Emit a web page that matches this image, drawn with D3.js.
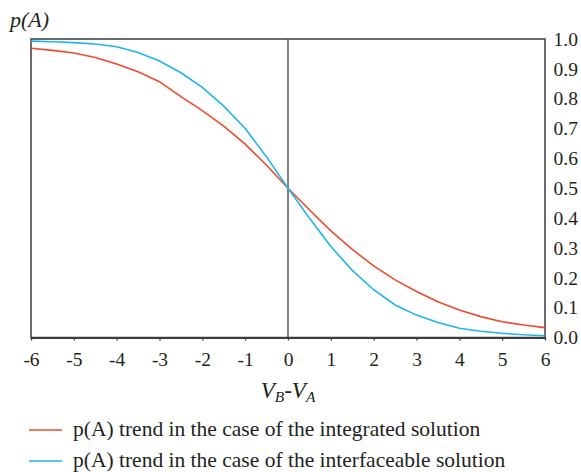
<!DOCTYPE html>
<html>
<head>
<meta charset="utf-8">
<script src="https://cdn.jsdelivr.net/npm/d3@7"></script>
<style>
  body { margin: 0; background: #fff; }
  svg text { font-family: "Liberation Serif", "DejaVu Serif", serif; fill: #231f20; }
</style>
</head>
<body>
<svg id="chart" width="581" height="472"></svg>
<script>
// Potential difference V_B - V_A
const xValues = [-6, -5.5, -5, -4.5, -4, -3.5, -3, -2.5, -2, -1.5, -1, -0.5, 0,
                 0.5, 1, 1.5, 2, 2.5, 3, 3.5, 4, 4.5, 5, 5.5, 6];
// p(A), integrated solution
const integrated = [0.969, 0.962, 0.953, 0.938, 0.916, 0.89, 0.857, 0.807, 0.76, 0.708, 0.648, 0.577, 0.5,
                    0.428, 0.357, 0.295, 0.24, 0.193, 0.154, 0.12, 0.092, 0.07, 0.053, 0.042, 0.033];
// p(A), interfaceable solution
const interfaceable = [0.993, 0.991, 0.988, 0.983, 0.974, 0.955, 0.926, 0.887, 0.838, 0.775, 0.7, 0.605, 0.5,
                       0.4, 0.305, 0.225, 0.16, 0.109, 0.075, 0.05, 0.031, 0.021, 0.014, 0.009, 0.006];
const xTicks = [-6, -5, -4, -3, -2, -1, 0, 1, 2, 3, 4, 5, 6];
const yTicks = [0, 0.1, 0.2, 0.3, 0.4, 0.5, 0.6, 0.7, 0.8, 0.9, 1.0];
const seriesNames = ["p(A) trend in the case of the integrated solution",
                     "p(A) trend in the case of the interfaceable solution"];
const seriesColors = ["#ee4a2c", "#1db5ea"];

const svg = d3.select("#chart");
const plotLeft = 31, plotRight = 545, plotTop = 39, plotBottom = 337.5;
const x = d3.scaleLinear().domain([-6, 6]).range([plotLeft, plotRight]);
const y = d3.scaleLinear().domain([0, 1]).range([plotBottom, plotTop]);
const frameColor = "#3d3d3d";
const serif = "Liberation Serif, DejaVu Serif, serif";

// plot frame
svg.append("rect")
  .attr("x", plotLeft).attr("y", plotTop)
  .attr("width", plotRight - plotLeft).attr("height", plotBottom - plotTop)
  .attr("fill", "none").attr("stroke", frameColor).attr("stroke-width", 1.5);

// vertical line at zero
svg.append("line")
  .attr("x1", x(0)).attr("x2", x(0)).attr("y1", plotTop).attr("y2", plotBottom)
  .attr("stroke", frameColor).attr("stroke-width", 1.3);

// bottom axis
const xAxis = svg.append("g")
  .attr("transform", `translate(0,${plotBottom})`)
  .call(d3.axisBottom(x).tickValues(xTicks).tickSize(3).tickSizeOuter(0)
        .tickFormat(d => d));
xAxis.attr("font-family", serif).attr("font-size", 19.5);
xAxis.select(".domain").attr("stroke", frameColor).attr("stroke-width", 2);
xAxis.selectAll(".tick line").attr("stroke", frameColor).attr("stroke-width", 1.3);
xAxis.selectAll(".tick text")
  .attr("fill", "#231f20").attr("dy", "0.71em").attr("y", 15);

// right-hand value labels
const yAxis = svg.append("g")
  .attr("transform", `translate(${plotRight},0)`)
  .call(d3.axisRight(y).tickValues(yTicks).tickSize(0).tickFormat(d3.format(".1f")));
yAxis.attr("font-family", serif).attr("font-size", 19.5);
yAxis.select(".domain").remove();
yAxis.selectAll(".tick text")
  .attr("fill", "#231f20").attr("x", 8.5);

// curves
const line = d3.line().x((d, i) => x(xValues[i])).y(d => y(d));
[integrated, interfaceable].forEach((s, k) => {
  svg.append("path")
    .datum(s)
    .attr("d", line)
    .attr("fill", "none")
    .attr("stroke", seriesColors[k])
    .attr("stroke-width", 1.6);
});

// y label
svg.append("text")
  .attr("x", 10).attr("y", 27)
  .attr("font-size", 22).attr("font-style", "italic")
  .text("p(A)");

// x label
const xl = svg.append("text")
  .attr("x", x(0)).attr("y", 398)
  .attr("text-anchor", "middle")
  .attr("font-size", 23).attr("font-style", "italic");
xl.append("tspan").text("V");
xl.append("tspan").attr("font-size", 15.5).attr("dy", 4).text("B");
xl.append("tspan").attr("dy", -4).text("-V");
xl.append("tspan").attr("font-size", 15.5).attr("dy", 4).text("A");

// legend
seriesNames.forEach((name, k) => {
  const ly = 430 + k * 31;
  svg.append("line")
    .attr("x1", 29).attr("x2", 62).attr("y1", ly).attr("y2", ly)
    .attr("stroke", seriesColors[k]).attr("stroke-width", 1.5);
  svg.append("text")
    .attr("x", 73).attr("y", ly + 6)
    .attr("font-size", 21.5)
    .text(name);
});
</script>
</body>
</html>
